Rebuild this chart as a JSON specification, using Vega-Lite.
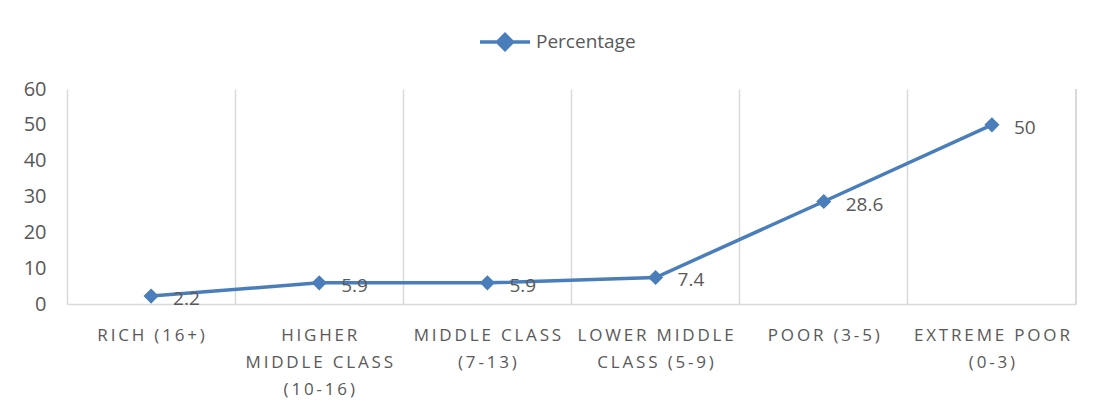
{
  "$schema": "https://vega.github.io/schema/vega-lite/v6.json",
  "width": 1009,
  "height": 215,
  "autosize": {"type": "none"},
  "padding": {"left": 67, "top": 89, "right": 20, "bottom": 102},
  "background": "white",
  "config": {
    "view": {"stroke": null},
    "font": "Open Sans",
    "axis": {"labelFont": "Open Sans", "labelColor": "#595959"}
  },
  "data": {
    "values": [
      {"category": "Rich (16+)", "Percentage": 2.2},
      {"category": "Higher Middle Class (10-16)", "Percentage": 5.9},
      {"category": "Middle Class (7-13)", "Percentage": 5.9},
      {"category": "Lower Middle Class (5-9)", "Percentage": 7.4},
      {"category": "Poor (3-5)", "Percentage": 28.6},
      {"category": "Extreme Poor (0-3)", "Percentage": 50}
    ]
  },
  "encoding": {
    "x": {
      "field": "category",
      "type": "nominal",
      "sort": null,
      "scale": {
        "domain": ["Rich (16+)", "Higher Middle Class (10-16)", "Middle Class (7-13)", "Lower Middle Class (5-9)", "Poor (3-5)", "Extreme Poor (0-3)"],
        "paddingInner": 0,
        "paddingOuter": 0
      },
      "axis": {
        "title": null,
        "labelAngle": 0,
        "labelFontSize": 17,
        "labelPadding": 31,
        "labelLineHeight": 27,
        "labelBaseline": "middle",
        "labelLimit": 0,
        "labelOverlap": false,
        "ticks": false,
        "bandPosition": 0,
        "grid": true,
        "gridColor": "#d9d9d9",
        "gridWidth": 1.5,
        "domainColor": "#d9d9d9",
        "domainWidth": 1.5,
        "labelExpr": "split(replace(upper(datum.label == 'Higher Middle Class (10-16)' ? 'Higher|Middle Class|(10-16)' : datum.label == 'Middle Class (7-13)' ? 'Middle Class|(7-13)' : datum.label == 'Lower Middle Class (5-9)' ? 'Lower Middle|Class (5-9)' : datum.label == 'Extreme Poor (0-3)' ? 'Extreme Poor|(0-3)' : datum.label), regexp('([^|])(?=[^|])', 'g'), '$1\u2009'), '|')"
      }
    },
    "y": {
      "field": "Percentage",
      "type": "quantitative",
      "scale": {"domain": [0, 60], "nice": false},
      "axis": {
        "title": null,
        "values": [0, 10, 20, 30, 40, 50, 60],
        "labelOverlap": false,
        "grid": false,
        "domain": false,
        "ticks": false,
        "labelFontSize": 20,
        "labelPadding": 21
      }
    }
  },
  "layer": [
    {
      "mark": {
        "type": "line",
        "strokeWidth": 3.5,
        "point": {"shape": "diamond", "size": 230, "filled": true}
      },
      "encoding": {
        "color": {
          "datum": "Percentage",
          "scale": {"range": ["#4a7ebb"]},
          "legend": {
            "title": null,
            "orient": "none",
            "legendX": 411,
            "legendY": -74,
            "symbolType": "M-1,0H1M-0.3,0L0,-0.3L0.3,0L0,0.3Z",
            "symbolSize": 2500,
            "symbolStrokeWidth": 3.5,
            "symbolFillColor": "#4a7ebb",
            "symbolStrokeColor": "#4a7ebb",
            "labelFontSize": 19,
            "labelColor": "#595959",
            "labelOffset": 4
          }
        }
      }
    },
    {
      "mark": {
        "type": "text",
        "align": "left",
        "baseline": "middle",
        "dx": 22,
        "dy": 3,
        "fontSize": 19,
        "color": "#595959"
      },
      "encoding": {
        "text": {"field": "Percentage", "type": "quantitative"}
      }
    },
    {
      "mark": {"type": "rule", "color": "#d9d9d9", "strokeWidth": 1.5},
      "encoding": {
        "x": {"datum": "Extreme Poor (0-3)", "bandPosition": 1},
        "y": null
      }
    }
  ]
}
